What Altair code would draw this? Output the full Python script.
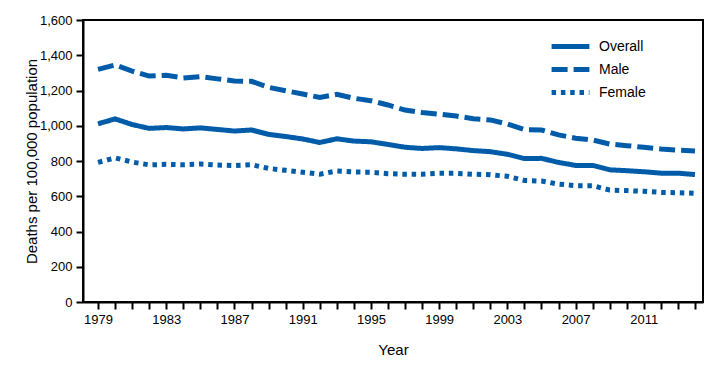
import altair as alt
import pandas as pd

years = list(range(1979, 2015))
overall = [1011, 1039, 1007, 985, 990, 982, 988, 979, 970, 976, 951, 939, 925, 905, 926,
           913, 909, 894, 878, 871, 876, 869, 859, 853, 838, 814, 815, 792, 775, 775,
           750, 745, 739, 731, 731, 723]
male = [1320, 1345, 1310, 1282, 1286, 1271, 1279, 1266, 1254, 1252, 1218, 1199, 1180, 1161, 1178,
        1156, 1142, 1118, 1089, 1075, 1066, 1055, 1040, 1033, 1010, 978, 976, 948, 929, 919,
        896, 887, 878, 868, 862, 857]
female = [792, 818, 794, 778, 781, 779, 783, 777, 774, 779, 758, 747, 736, 725, 743,
          738, 736, 728, 725, 725, 730, 730, 725, 722, 713, 690, 686, 669, 660, 660,
          635, 632, 628, 622, 620, 617]
series_names = ["Overall", "Male", "Female"]
y_ticks = [0, 200, 400, 600, 800, 1000, 1200, 1400, 1600]

rows = []
for name, vals in zip(series_names, [overall, male, female]):
    for yr, v in zip(years, vals):
        rows.append({"Year": yr, "Rate": v, "Series": name})
df = pd.DataFrame(rows)

FONT = "Liberation Sans"
BLUE = "#005CA9"

chart = alt.Chart(df).mark_line(strokeWidth=5, color=BLUE, strokeCap="butt").encode(
    x=alt.X("Year:Q",
            scale=alt.Scale(domain=[1978.12, 2014.47], nice=False, zero=False),
            axis=alt.Axis(values=years, title="Year",
                          labelExpr="(datum.value - 1979) % 4 == 0 ? datum.value : ''",
                          labelOverlap=False, tickSize=7, labelPadding=4,
                          titlePadding=16, grid=False)),
    y=alt.Y("Rate:Q",
            scale=alt.Scale(domain=[0, 1600], nice=False),
            axis=alt.Axis(values=y_ticks, format=",d", title="Deaths per 100,000 population",
                          tickSize=7, labelPadding=4, titlePadding=0, grid=False)),
    strokeDash=alt.StrokeDash("Series:N",
                              scale=alt.Scale(domain=series_names,
                                              range=[[1, 0], [16, 6], [4.5, 4.8]]),
                              legend=alt.Legend(title=None, orient="none", legendX=476, legendY=15,
                                                symbolType="M-2.1,0H2.1", symbolSize=324,
                                                symbolStrokeWidth=5, symbolStrokeColor=BLUE,
                                                symbolFillColor="transparent",
                                                labelFontSize=14, labelFont=FONT, labelColor="black",
                                                labelOffset=17, rowPadding=1, padding=0)),
    detail="Series:N",
).properties(
    width=620, height=282,
    autosize=alt.AutoSizeParams(type="none"),
    padding={"left": 75, "top": 12, "right": 5, "bottom": 57},
).configure_view(
    stroke="black", strokeWidth=2
).configure_axis(
    labelFont=FONT, titleFont=FONT, labelFontSize=13, titleFontSize=15,
    titleFontWeight="normal", labelColor="black", titleColor="black",
    domainColor="black", domainWidth=2, tickColor="black", tickWidth=2,
)

chart.save("out.html", embed_options={"renderer": "svg", "actions": False})
